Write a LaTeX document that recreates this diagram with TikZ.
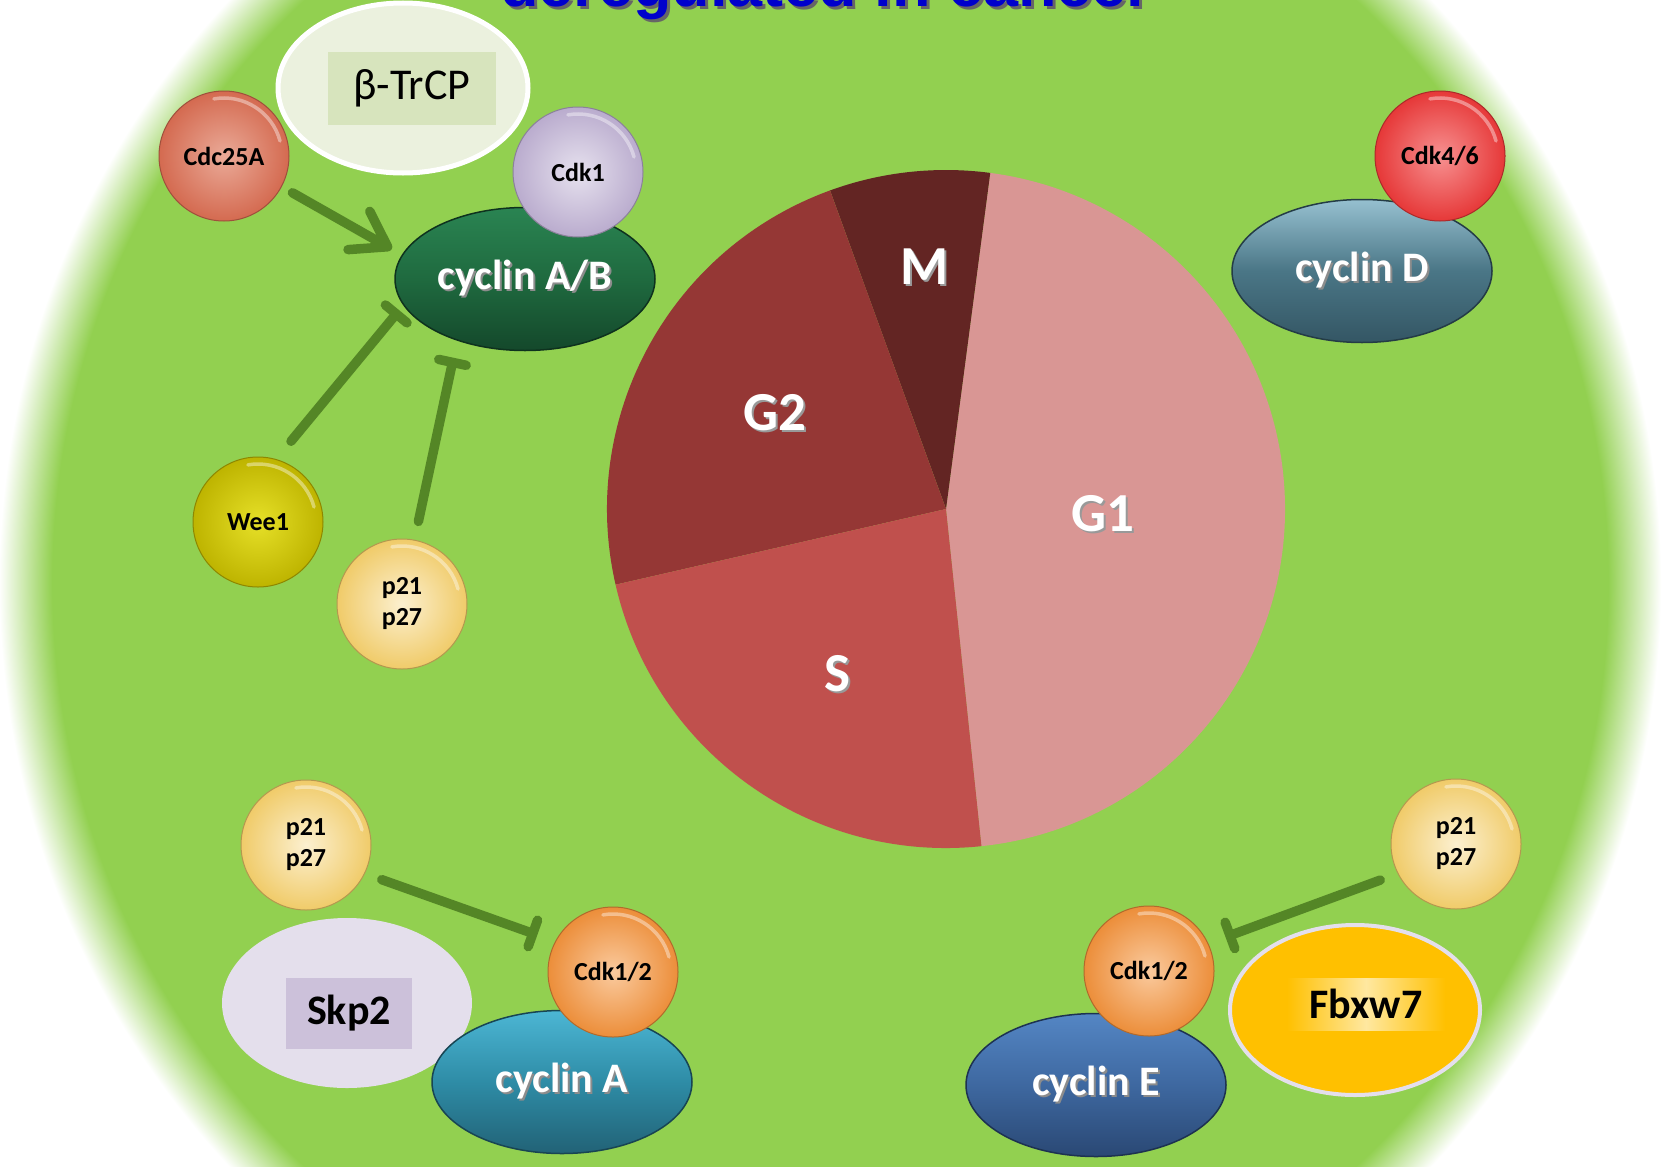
\documentclass[tikz,border=0pt]{standalone}
\usepackage{fontspec}
\setmainfont{Carlito}
\newfontfamily\titlefont{Liberation Sans}
\usetikzlibrary{shapes.geometric,arrows.meta}

\definecolor{bggreen}{RGB}{146,208,80}
\definecolor{linkgreen}{RGB}{84,134,38}
\definecolor{titleblue}{RGB}{0,0,204}
\definecolor{g1col}{RGB}{217,150,148}
\definecolor{mcol}{RGB}{99,37,35}
\definecolor{g2col}{RGB}{149,55,53}
\definecolor{scol}{RGB}{192,80,77}
\definecolor{btrcpfillcol}{RGB}{235,241,222}
\definecolor{btrcpboxcol}{RGB}{215,228,189}
\definecolor{skpfillcol}{RGB}{228,223,236}
\definecolor{skpboxcol}{RGB}{204,193,218}
\definecolor{fbxfillcol}{RGB}{255,192,0}
\definecolor{fbxlightcol}{RGB}{255,232,160}
\definecolor{cdcin}{RGB}{234,170,152}
\definecolor{cdcout}{RGB}{212,106,80}
\definecolor{cdkonein}{RGB}{230,225,238}
\definecolor{cdkoneout}{RGB}{186,172,206}
\definecolor{weein}{RGB}{230,224,40}
\definecolor{weeout}{RGB}{190,180,0}
\definecolor{pin}{RGB}{252,240,208}
\definecolor{pout}{RGB}{240,203,105}
\definecolor{cdkin}{RGB}{250,202,158}
\definecolor{cdkout}{RGB}{236,142,58}
\definecolor{cdkdin}{RGB}{247,145,145}
\definecolor{cdkdout}{RGB}{230,56,56}
\definecolor{cabtop}{RGB}{42,132,82}
\definecolor{cabmid}{RGB}{31,106,63}
\definecolor{cabbot}{RGB}{20,72,43}
\definecolor{cyatop}{RGB}{76,182,212}
\definecolor{cyamid}{RGB}{46,140,166}
\definecolor{cyabot}{RGB}{34,98,118}
\definecolor{cetop}{RGB}{84,134,196}
\definecolor{cemid}{RGB}{62,104,160}
\definecolor{cebot}{RGB}{42,72,116}
\definecolor{cdtop}{RGB}{150,192,208}
\definecolor{cdmid}{RGB}{74,118,134}
\definecolor{cdbot}{RGB}{52,86,100}

\pgfdeclareradialshading{bgfade}{\pgfpoint{0bp}{0bp}}{color(0bp)=(bggreen); color(23.4bp)=(bggreen); color(25bp)=(white); color(50bp)=(white)}

\newcommand\shd[2][black!45]{\makebox[0pt][l]{\hspace{2pt}\raisebox{-2pt}{\textcolor{#1}{#2}}}#2}
\newcommand\tshd[1]{\makebox[0pt][l]{\hspace{3pt}\raisebox{-3pt}{\textcolor{black!60}{#1}}}#1}
\newcommand\bigfont{\fontsize{42}{48}\selectfont}
\newcommand\ballfont{\fontsize{26}{31}\selectfont\bfseries}
\newcommand\piefont{\fontsize{55}{60}\selectfont\bfseries}
\newcommand\glint[1]{\draw[glint] ([shift={(-15:58)}]#1.center) arc[start angle=-15, end angle=-100, radius=58];}

\begin{document}
\begin{tikzpicture}[x=1pt, y=-1pt,
  ball/.style 2 args={circle, minimum size=130pt, inner sep=0pt, outer sep=0pt,
    inner color=#1, outer color=#2, draw=#2!75!black, line width=1pt,
    font=\ballfont, align=center, text=black},
  cyc/.style n args={3}{ellipse, minimum width=260pt, minimum height=143pt,
    inner sep=0pt, outer sep=0pt, top color=#1, bottom color=#3, middle color=#2,
    draw=#3!70!black, line width=1.5pt, font=\bigfont\bfseries, text=white},
  ligase/.style={ellipse, minimum width=250pt, minimum height=170pt,
    inner sep=0pt, outer sep=0pt},
  labelbox/.style={rectangle, inner sep=0pt, outer sep=0pt, font=\bigfont, text=black},
  pielab/.style={inner sep=0pt, font=\piefont, text=white},
  link/.style={draw=linkgreen, line width=9.5pt, line cap=round},
  act/.style={link, -{Straight Barb[length=33pt, width=44pt, line cap=round, line join=round]}},
  inh/.style={link, -{Bar[width=28pt, line cap=round]}},
  glint/.style={white, opacity=0.4, line width=3.5pt, line cap=round}
]
\useasboundingbox (0,0) rectangle (1665,1167);
\clip (0,0) rectangle (1665,1167);
\fill[white] (0,0) rectangle (1665,1167);
\shade[shading=bgfade] (830,583) ellipse [x radius=831, y radius=845];

% title (cut off by the top edge, as in the reference)
\node[anchor=base west, inner sep=0pt, text=titleblue,
  font=\titlefont\bfseries\fontsize{63}{70}\selectfont] (title) at (500,6)
  {\tshd{deregulated in cancer}};

% pie chart of the cell cycle
\begin{scope}[shift={(946,509)}, y=1pt]
  \fill[g1col] (0,0) -- (-84:339) arc[start angle=-84, end angle=82.5, radius=339] -- cycle;
  \fill[mcol]  (0,0) -- (82.5:339) arc[start angle=82.5, end angle=110, radius=339] -- cycle;
  \fill[g2col] (0,0) -- (110:339) arc[start angle=110, end angle=192.9, radius=339] -- cycle;
  \fill[scol]  (0,0) -- (192.9:339) arc[start angle=192.9, end angle=276, radius=339] -- cycle;
\end{scope}
\node[pielab] (lblM)  at (925,268) {\shd[black!40]{M}};
\node[pielab] (lblG2) at (775,414) {\shd[black!40]{G2}};
\node[pielab] (lblG1) at (1103,515) {\shd[black!40]{G1}};
\node[pielab] (lblS)  at (837,675) {\shd[black!40]{S}};

% ubiquitin ligases
\node[ligase, fill=btrcpfillcol, draw=white, line width=5pt] (btrcp) at (403,88) {};
\node[labelbox, fill=btrcpboxcol, minimum width=168pt, minimum height=73pt,
  font=\fontsize{44}{50}\selectfont] (btrcpbox) at (412,88) {β-TrCP};
\node[ligase, fill=skpfillcol] (skp) at (347,1003) {};
\node[labelbox, fill=skpboxcol, minimum width=126pt, minimum height=71pt, font=\bigfont\bfseries] (skpbox) at (349,1013) {Skp2};
\node[ligase, fill=fbxfillcol, draw=skpfillcol, line width=4pt] (fbx) at (1355,1010) {};
\node[labelbox, left color=fbxfillcol, right color=fbxfillcol, middle color=fbxlightcol,
  minimum width=158pt, minimum height=52pt, font=\bigfont\bfseries] (fbxbox) at (1366,1004) {Fbxw7};

% cyclins
\node[cyc={cabtop}{cabmid}{cabbot}] (cycAB) at (525,279) {\shd{cyclin A/B}};
\node[cyc={cyatop}{cyamid}{cyabot}] (cycA) at (562,1082) {\shd{cyclin A}};
\node[cyc={cetop}{cemid}{cebot}] (cycE) at (1096,1085) {\shd{cyclin E}};
\node[cyc={cdtop}{cdmid}{cdbot}] (cycD) at (1362,271) {\shd{cyclin D}};

% kinases and regulators
\node[ball={cdcin}{cdcout}] (cdc) at (224,156) {Cdc25A};
\node[ball={cdkonein}{cdkoneout}] (cdkone) at (578,172) {Cdk1};
\node[ball={weein}{weeout}] (wee) at (258,522) {Wee1};
\node[ball={pin}{pout}] (pA) at (402,604) {p21\\p27};
\node[ball={pin}{pout}] (pB) at (306,845) {p21\\p27};
\node[ball={cdkin}{cdkout}] (cdkA) at (613,972) {Cdk1/2};
\node[ball={pin}{pout}] (pC) at (1456,844) {p21\\p27};
\node[ball={cdkin}{cdkout}] (cdkE) at (1149,971) {Cdk1/2};
\node[ball={cdkdin}{cdkdout}] (cdkD) at (1440,156) {Cdk4/6};

\glint{cdc} \glint{cdkone} \glint{wee} \glint{pA} \glint{pB}
\glint{cdkA} \glint{pC} \glint{cdkE} \glint{cdkD}

% connectors
\draw[act, shorten <=12.7pt, shorten >=12.3pt] (cdc.-28.5) -- (cycAB.169.5);
\draw[inh, shorten <=23.7pt, shorten >=7.1pt] (wee.74.1) -- (cycAB.192.9);
\draw[inh, shorten <=19.2pt, shorten >=18.1pt] (pA.79.45) -- (cycAB.222);
\draw[inh, shorten <=18.4pt, shorten >=19.4pt] (pB.-26.5) -- (cdkA.152.6);
\draw[inh, shorten <=19pt, shorten >=18.75pt] (pC.207.5) -- (cdkE.25.9);
\end{tikzpicture}
\end{document}
